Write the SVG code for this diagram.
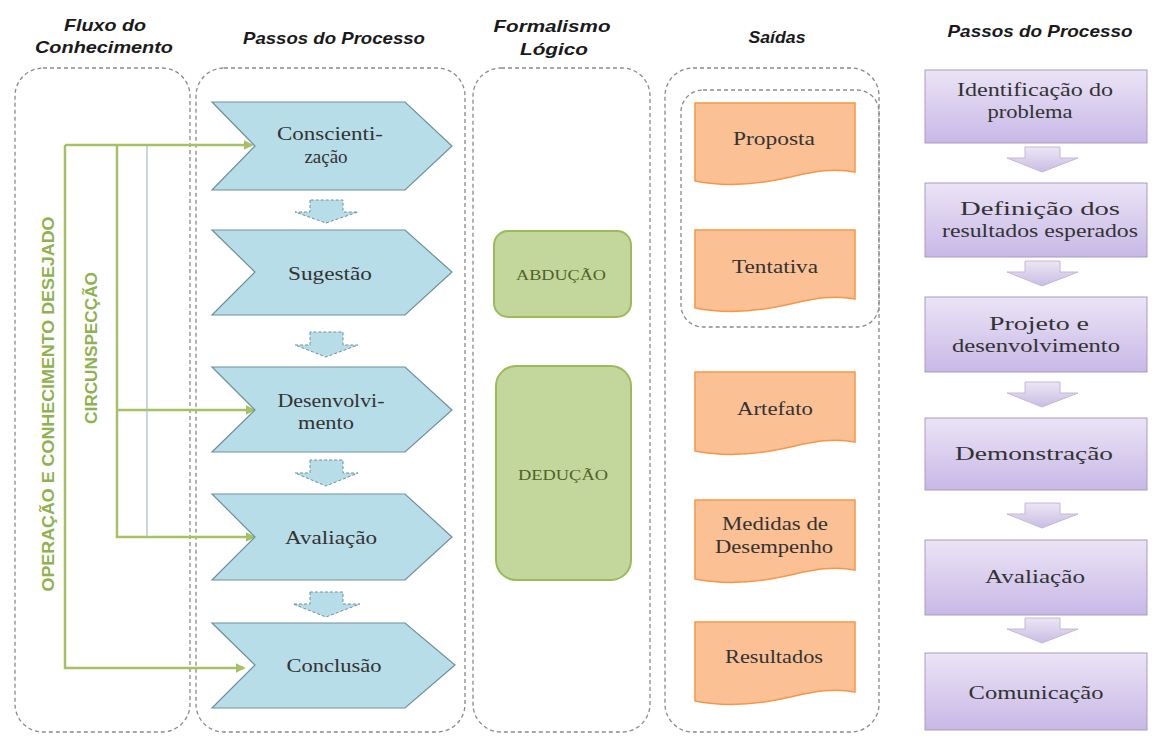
<svg xmlns="http://www.w3.org/2000/svg" width="1152" height="736" viewBox="0 0 1152 736">
<defs>
<style>
.hdr{font-family:"Liberation Sans",Arial,sans-serif;font-style:italic;font-weight:bold;font-size:17px;fill:#1a1a1a;text-anchor:middle}
.cont{fill:none;stroke:#8a8a8a;stroke-width:1.3;stroke-dasharray:4 3}
.chev{fill:#b7dde8;stroke:#6f909b;stroke-width:1.2}
.dn{fill:#b7dde8;stroke:#6f8f9c;stroke-width:1;stroke-dasharray:3 2}
.st{font-family:"Liberation Serif",serif;font-size:19px;fill:#333333;text-anchor:middle}
.grn{fill:#c3d69b;stroke:#9bbb59;stroke-width:2}
.gt{font-family:"Liberation Serif",serif;font-size:14px;fill:#4f6228;text-anchor:middle}
.doc{fill:#fbc195;stroke:#f79646;stroke-width:1.5}
.pur{fill:url(#pg);stroke:#a99bbd;stroke-width:1}
.parr{fill:url(#pa);stroke:#c4b8d6;stroke-width:1}
.gl{fill:none;stroke:#a6c164;stroke-width:2.5}
.vt{font-family:"Liberation Sans",Arial,sans-serif;font-weight:bold;font-size:16px;fill:#8fb14e;text-anchor:middle}
</style>
<linearGradient id="pg" x1="0" y1="0" x2="0" y2="1"><stop offset="0" stop-color="#ebe4f6"/><stop offset="1" stop-color="#c8b8e6"/></linearGradient>
<linearGradient id="pa" x1="0" y1="0" x2="0" y2="1"><stop offset="0" stop-color="#ece6f5"/><stop offset="1" stop-color="#c9bde3"/></linearGradient>
<marker id="ah" viewBox="0 0 6 6" refX="5" refY="3" markerWidth="4" markerHeight="4" orient="auto"><path d="M0,0 L6,3 L0,6 Z" fill="#a6c164"/></marker>
</defs>
<rect width="1152" height="736" fill="#fff"/>

<g id="headers">
<text class="hdr" x="105" y="31" textLength="82" lengthAdjust="spacingAndGlyphs">Fluxo do</text>
<text class="hdr" x="104" y="53" textLength="138" lengthAdjust="spacingAndGlyphs">Conhecimento</text>
<text class="hdr" x="334" y="44" textLength="182" lengthAdjust="spacingAndGlyphs">Passos do Processo</text>
<text class="hdr" x="552" y="32" textLength="117" lengthAdjust="spacingAndGlyphs">Formalismo</text>
<text class="hdr" x="554" y="55" textLength="68" lengthAdjust="spacingAndGlyphs">Lógico</text>
<text class="hdr" x="777" y="43" textLength="57" lengthAdjust="spacingAndGlyphs">Saídas</text>
<text class="hdr" x="1040" y="37" textLength="185" lengthAdjust="spacingAndGlyphs">Passos do Processo</text>
</g>

<g id="containers">
<rect class="cont" x="15" y="68" width="175" height="664" rx="28"/>
<rect class="cont" x="196" y="68" width="269" height="664" rx="28"/>
<rect class="cont" x="473" y="68" width="177" height="664" rx="28"/>
<rect class="cont" x="665" y="68" width="214" height="664" rx="28"/>
<rect class="cont" x="681" y="90" width="198" height="237" rx="22" stroke-dasharray="12 5 3 5"/>
</g>

<g id="connectors">
<polyline class="gl" points="65,145 65,668 244,668" marker-end="url(#ah)"/>
<polyline class="gl" points="117,145 117,537 254,537" marker-end="url(#ah)"/>
<line class="gl" x1="117" y1="410" x2="254" y2="410" marker-end="url(#ah)"/>
<line x1="147" y1="145" x2="147" y2="537" stroke="#aab9c9" stroke-width="1.2"/>
<line class="gl" x1="65" y1="145" x2="252" y2="145" marker-end="url(#ah)"/>
</g>

<g id="vertical-labels">
<text class="vt" transform="translate(54,404) rotate(-90)" textLength="375" lengthAdjust="spacingAndGlyphs">OPERAÇÃO E CONHECIMENTO DESEJADO</text>
<text class="vt" transform="translate(97,348) rotate(-90)" textLength="152" lengthAdjust="spacingAndGlyphs">CIRCUNSPECÇÃO</text>
</g>

<g id="conscientizacao">
<path class="chev" d="M212,102 H405 L452,146 L405,190 H212 L255,146 Z"/>
<text class="st" x="330" y="140" textLength="106" lengthAdjust="spacingAndGlyphs">Conscienti-</text>
<text class="st" x="326" y="163">zação</text>
</g>
<g id="sugestao">
<path class="chev" d="M212,230 H405 L452,272 L405,315 H212 L255,272 Z"/>
<text class="st" x="330" y="280" textLength="84" lengthAdjust="spacingAndGlyphs">Sugestão</text>
</g>
<g id="desenvolvimento">
<path class="chev" d="M212,367 H405 L452,410 L405,452 H212 L255,410 Z"/>
<text class="st" x="331" y="407" textLength="107" lengthAdjust="spacingAndGlyphs">Desenvolvi-</text>
<text class="st" x="326" y="429" textLength="56" lengthAdjust="spacingAndGlyphs">mento</text>
</g>
<g id="avaliacao">
<path class="chev" d="M212,494 H405 L452,537 L405,580 H212 L255,537 Z"/>
<text class="st" x="331" y="544" textLength="92" lengthAdjust="spacingAndGlyphs">Avaliação</text>
</g>
<g id="conclusao">
<path class="chev" d="M212,623 H405 L455,665 L405,708 H212 L255,665 Z"/>
<text class="st" x="334" y="672" textLength="95" lengthAdjust="spacingAndGlyphs">Conclusão</text>
</g>

<g id="step-arrows">
<path class="dn" d="M310,200 V212 H295 L326,223 L358,212 H343 V200 Z"/>
<path class="dn" d="M310,332 V345 H295 L326,357 L358,345 H343 V332 Z"/>
<path class="dn" d="M310,460 V473 H295 L326,486 L358,473 H343 V460 Z"/>
<path class="dn" d="M310,592 V604 H293 L326,617 L360,604 H343 V592 Z"/>
</g>

<g id="abducao">
<rect class="grn" x="494" y="231" width="137" height="86" rx="14"/>
<text class="gt" x="561" y="280" textLength="90" lengthAdjust="spacingAndGlyphs">ABDUÇÃO</text>
</g>
<g id="deducao">
<rect class="grn" x="496" y="366" width="135" height="214" rx="20"/>
<text class="gt" x="563" y="480" textLength="90" lengthAdjust="spacingAndGlyphs">DEDUÇÃO</text>
</g>

<g id="proposta">
<path class="doc" d="M695,103 H855 V172 C825,166 800,176 770,181 C740,186 715,185 695,181 Z"/>
<text class="st" x="774" y="145" textLength="82" lengthAdjust="spacingAndGlyphs">Proposta</text>
</g>
<g id="tentativa">
<path class="doc" d="M695,230 H855 V299 C825,293 800,303 770,308 C740,313 715,312 695,308 Z"/>
<text class="st" x="775" y="273" textLength="86" lengthAdjust="spacingAndGlyphs">Tentativa</text>
</g>
<g id="artefato">
<path class="doc" d="M695,372 H855 V442 C825,436 800,446 770,451 C740,456 715,455 695,451 Z"/>
<text class="st" x="775" y="415" textLength="76" lengthAdjust="spacingAndGlyphs">Artefato</text>
</g>
<g id="medidas">
<path class="doc" d="M695,500 H855 V570 C825,564 800,574 770,579 C740,584 715,583 695,579 Z"/>
<text class="st" x="775" y="530" textLength="106" lengthAdjust="spacingAndGlyphs">Medidas de</text>
<text class="st" x="774" y="553" textLength="118" lengthAdjust="spacingAndGlyphs">Desempenho</text>
</g>
<g id="resultados">
<path class="doc" d="M695,622 H855 V692 C825,686 800,696 770,701 C740,706 715,705 695,701 Z"/>
<text class="st" x="774" y="663" textLength="98" lengthAdjust="spacingAndGlyphs">Resultados</text>
</g>

<g id="identificacao">
<rect class="pur" x="925" y="70" width="222" height="73"/>
<text class="st" x="1035" y="96" textLength="156" lengthAdjust="spacingAndGlyphs">Identificação do</text>
<text class="st" x="1030" y="118" textLength="85" lengthAdjust="spacingAndGlyphs">problema</text>
</g>
<g id="definicao">
<rect class="pur" x="925" y="183" width="222" height="74"/>
<text class="st" x="1040" y="215" textLength="160" lengthAdjust="spacingAndGlyphs">Definição dos</text>
<text class="st" x="1040" y="237" textLength="196" lengthAdjust="spacingAndGlyphs">resultados esperados</text>
</g>
<g id="projeto">
<rect class="pur" x="925" y="297" width="222" height="75"/>
<text class="st" x="1039" y="330" textLength="100" lengthAdjust="spacingAndGlyphs">Projeto e</text>
<text class="st" x="1036" y="352" textLength="168" lengthAdjust="spacingAndGlyphs">desenvolvimento</text>
</g>
<g id="demonstracao">
<rect class="pur" x="925" y="418" width="222" height="72"/>
<text class="st" x="1034" y="460" textLength="158" lengthAdjust="spacingAndGlyphs">Demonstração</text>
</g>
<g id="avaliacao2">
<rect class="pur" x="925" y="540" width="222" height="75"/>
<text class="st" x="1035" y="583" textLength="100" lengthAdjust="spacingAndGlyphs">Avaliação</text>
</g>
<g id="comunicacao">
<rect class="pur" x="925" y="653" width="222" height="77"/>
<text class="st" x="1036" y="699" textLength="135" lengthAdjust="spacingAndGlyphs">Comunicação</text>
</g>

<g id="right-arrows">
<path class="parr" d="M1025,147 V158 H1007 L1042,172 L1078,158 H1060 V147 Z"/>
<path class="parr" d="M1025,261 V272 H1007 L1042,286 L1078,272 H1060 V261 Z"/>
<path class="parr" d="M1025,382 V393 H1007 L1042,407 L1078,393 H1060 V382 Z"/>
<path class="parr" d="M1025,503 V514 H1007 L1042,528 L1078,514 H1060 V503 Z"/>
<path class="parr" d="M1025,618 V629 H1007 L1042,643 L1078,629 H1060 V618 Z"/>
</g>
</svg>
